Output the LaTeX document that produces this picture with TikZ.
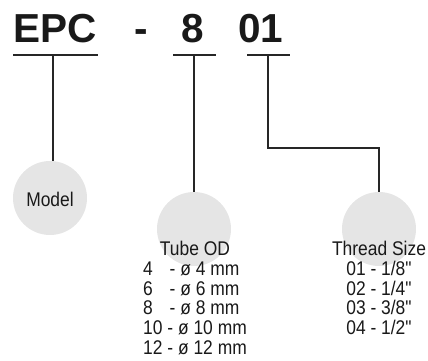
\documentclass[tikz,border=0pt]{standalone}
\usepackage{fontspec}
\setmainfont{Liberation Sans}
\newfontfamily\narrowfont[FakeStretch=0.88]{Liberation Sans}
\begin{document}
\begin{tikzpicture}[x=1pt,y=-1pt,
  title/.style={font=\fontsize{40.5}{40}\selectfont\bfseries, inner sep=0, anchor=base, text=black!90},
  lbl/.style={font=\narrowfont\fontsize{19.8}{20}\selectfont, inner sep=0, anchor=base, text=black!90},
  disc/.style={circle, fill=black!10, minimum size=74pt, inner sep=0},
  ln/.style={line width=1.2pt, black!85}
]
\useasboundingbox (0,0) rectangle (428,360);
% discs
\node[disc] (model) at (50,198) {};
\node[disc] (tube) at (194,229) {};
\node[disc] (thread) at (379,229) {};
% title
\node[title] (epc) at (55,42) {EPC};
\node[title] (dash) at (141,42) {-};
\node[title] (size) at (193,42) {8};
\node[title] (thr) at (261,42) {01};
% underlines
\coordinate (ua) at (13,55); \coordinate (ub) at (98,55);
\coordinate (va) at (173,55); \coordinate (vb) at (216,55);
\coordinate (wa) at (247,55); \coordinate (wb) at (290,55);
\draw[ln] (ua) -- (ub);
\draw[ln] (va) -- (vb);
\draw[ln] (wa) -- (wb);
\coordinate (mu) at (53,55);
\coordinate (tu) at (194,55);
\coordinate (hu) at (268,55);
\draw[ln] (mu) -- (mu |- model.north);
\draw[ln] (tu) -- (tube.north);
\draw[ln] (hu) -- (268,148) -| (thread.north);
% labels
\node[lbl] (mtext) at (50,206) {Model};
\node[lbl] (ttext) at (195,255) {Tube OD};
\node[lbl] (htext) at (379,255) {Thread Size};
\begin{scope}[every node/.style={lbl, anchor=base west}]
\node (t4) at (143,275) {\makebox[26.5pt][l]{4}- ø 4 mm};
\node (t6) at (143,295) {\makebox[26.5pt][l]{6}- ø 6 mm};
\node (t8) at (143,314) {\makebox[26.5pt][l]{8}- ø 8 mm};
\node (t10) at (143,334) {10 - ø 10 mm};
\node (t12) at (143,354) {12 - ø 12 mm};
\end{scope}
\node[lbl] (h1) at (379,275) {01 - 1/8"};
\node[lbl] (h2) at (379,295) {02 - 1/4"};
\node[lbl] (h3) at (379,314) {03 - 3/8"};
\node[lbl] (h4) at (379,334) {04 - 1/2"};
\end{tikzpicture}
\end{document}
